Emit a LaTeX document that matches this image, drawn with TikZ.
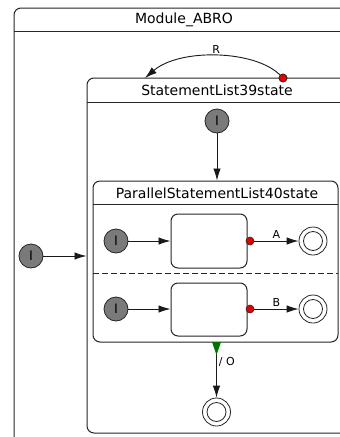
\documentclass[tikz,border=0pt]{standalone}
\usepackage{fontspec}
\setmainfont{DejaVu Sans}
\usetikzlibrary{arrows.meta}
\begin{document}
\begin{tikzpicture}[x=1pt,y=-1pt,
  box/.style={draw=black!85, line width=1pt, rounded corners=7pt, inner sep=0pt},
  sep/.style={draw=black!85, line width=1pt},
  init/.style={circle, draw=black!85, fill=black!52, line width=0.8pt, minimum size=24pt, inner sep=0pt, font=\fontsize{13}{13}\selectfont},
  final/.style={circle, draw=black!85, line width=0.8pt, minimum size=28pt, inner sep=0pt,
    path picture={\draw[black!85, line width=0.8pt] (path picture bounding box.center) circle (9.5pt);}},
  dot/.style={circle, draw=black!85, fill=red!90!black, line width=0.6pt, minimum size=8pt, inner sep=0pt},
  trans/.style={draw=black!90, line width=0.9pt, -{Latex[length=12pt,width=7.5pt]}},
  head/.style={font=\fontsize{14}{14}\selectfont},
  lbl/.style={font=\fontsize{11}{11}\selectfont, inner sep=2pt}]
\useasboundingbox (0,0) rectangle (340,437);
\clip (0,0) rectangle (340,437);
\fill[white] (0,0) rectangle (340,437);

% nested state boxes
\node[box, minimum width=340pt, minimum height=462pt] (mod) at (184,239) {};
\draw[sep] (14,31) -- (354,31);
\node[head] (modt) at (184,20) {Module\_ABRO};

\node[box, minimum width=261pt, minimum height=355pt] (sl) at (217.5,255.5) {};
\draw[sep] (87,102) -- (348,102);
\node[head] (slt) at (217,90) {StatementList39state};

\node[box, minimum width=245pt, minimum height=161pt] (par) at (215.5,261.5) {};
\draw[sep] (93,204) -- (338,204);
\draw[sep, dashed, dash pattern=on 6pt off 3pt] (93,273) -- (338,273);
\node[head] (part) at (217,193) {ParallelStatementList40state};

\node[box, minimum width=76pt, minimum height=54pt] (sa) at (209,241) {};
\node[box, minimum width=76pt, minimum height=53pt] (sb) at (209,309.5) {};

% pseudo states
\node[init] (i0) at (31,256) {I};
\node[init] (i1) at (217,121) {I};
\node[init] (ia) at (116,241) {I};
\node[init] (ib) at (116,309) {I};
\node[final] (fa) at (313,241) {};
\node[final] (fb) at (313,309) {};
\node[final] (fo) at (216.5,412) {};

% transitions
\draw[trans] (i0) -- (i0 -| sl.west);
\draw[trans] (i1) -- (i1 |- par.north);
\draw[trans] (ia) -- (ia -| sa.west);
\draw[trans] (ib) -- (ib -| sb.west);

\node[dot] (ra) at (250,241) {};
\node[dot] (rb) at (250,309) {};
\draw[trans] (ra) -- node[lbl, above] {A} (fa);
\draw[trans] (rb) -- node[lbl, above] {B} (fb);

\coordinate (rt) at (145,78);
\node[dot] (rr) at (283,78) {};
\draw[trans] (rr) .. controls (255,50) and (180,48) .. node[lbl, above] {R} (rt);
\node[dot] at (283,78) {};

\coordinate (gs) at (216.5,342);
\draw[trans] (gs) -- node[lbl, right, pos=0.35] {/ O} (fo);
\fill[green!45!black] (212,342) -- (221,342) -- (216.5,355) -- cycle;
\end{tikzpicture}
\end{document}
